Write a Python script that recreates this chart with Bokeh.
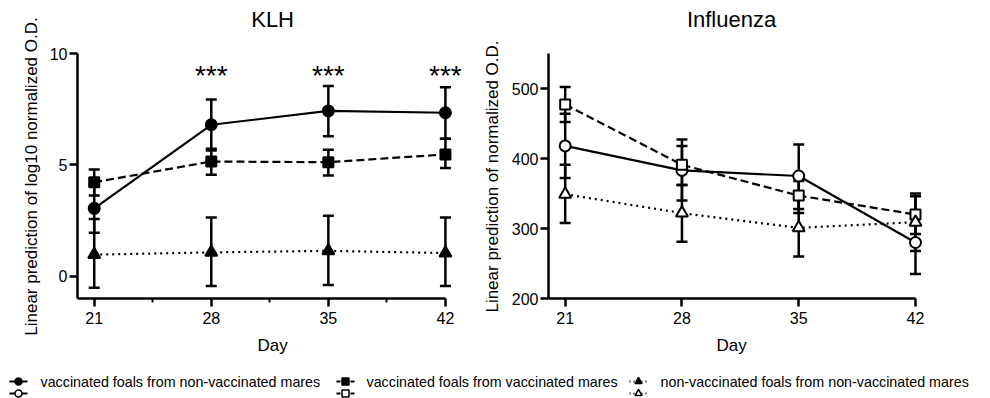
import math
from bokeh.plotting import figure
from bokeh.layouts import column, row
from bokeh.models import Whisker, TeeHead, ColumnDataSource, FixedTicker, Range1d
from bokeh.core.properties import value
from bokeh.embed import file_html
from bokeh.resources import INLINE

# ---------------- data ----------------
days = [21, 28, 35, 42]
x_ticks = [21, 28, 35, 42]
x_minor_ticks = [24.5, 31.5, 38.5]

titles = ["KLH", "Influenza"]
x_label = "Day"
y_labels = ["Linear prediction of log10 normalized O.D.", "Linear prediction of normalized O.D."]

series_names = [
    "vaccinated foals from non-vaccinated mares",
    "vaccinated foals from vaccinated mares",
    "non-vaccinated foals from non-vaccinated mares",
]

# KLH (linear prediction of log10 normalized O.D.)
klh_vfnm = [3.05, 6.80, 7.42, 7.34]
klh_vfnm_lo = [1.95, 5.65, 6.28, 6.17]
klh_vfnm_hi = [4.10, 7.94, 8.54, 8.48]

klh_vfvm = [4.22, 5.15, 5.12, 5.47]
klh_vfvm_lo = [3.62, 4.56, 4.52, 4.86]
klh_vfvm_hi = [4.79, 5.72, 5.68, 6.17]

klh_nvfnm = [0.97, 1.07, 1.14, 1.04]
klh_nvfnm_lo = [-0.52, -0.44, -0.39, -0.44]
klh_nvfnm_hi = [2.57, 2.64, 2.72, 2.64]

klh_y_ticks = [0, 5, 10]
star_days = [28, 35, 42]
star_labels = ["***", "***", "***"]

# Influenza (linear prediction of normalized O.D.)
flu_vfnm = [418, 383, 375, 280]
flu_vfnm_lo = [372, 340, 328, 235]
flu_vfnm_hi = [464, 418, 420, 325]

flu_vfvm = [477, 391, 347, 320]
flu_vfvm_lo = [452, 362, 322, 292]
flu_vfvm_hi = [502, 427, 368, 350]

flu_nvfnm = [349, 322, 301, 309]
flu_nvfnm_lo = [308, 281, 260, 268]
flu_nvfnm_hi = [391, 362, 342, 346]

flu_y_ticks = [200, 300, 400, 500]

# ---------------- styling / layout constants ----------------
FONT = "Liberation Sans"
STAR_Y = 9.0
dash_styles = ["solid", "8 4", "2 4"]
markers = ["circle", "square", "triangle"]
marker_sizes = [11, 10, 12]
W = 990
TOP_H, MAIN_H, DAY_H, LEG_H = 40, 295, 25, 38
UPPER_H = TOP_H + MAIN_H + DAY_H
BORDER_TOP, BORDER_BOTTOM = 13, 37
X_LO, X_HI, X_MAX = 20, 42, 43.5
label_strip_w = [45, 25]
panel_widths = [435, 485]
panel_left = [32, 43]
panel_right = [10, 50]
label_strip_x = [31, 12]
YLABEL_CY = 176


def strip(width, height):
    s = figure(width=width, height=height, x_range=Range1d(0, width), y_range=Range1d(height, 0),
               output_backend="svg", toolbar_location=None, min_border=0)
    s.axis.visible = False
    s.grid.visible = False
    s.outline_line_color = None
    return s


def base_fig(width, yr, lb, rb, yticks, minor):
    p = figure(width=width, height=MAIN_H, x_range=Range1d(X_LO, X_MAX), y_range=Range1d(*yr),
               output_backend="svg", toolbar_location=None,
               min_border_left=lb, min_border_right=rb, min_border_top=BORDER_TOP,
               min_border_bottom=BORDER_BOTTOM)
    p.outline_line_color = None
    p.grid.visible = False
    p.background_fill_color = "white"
    p.border_fill_color = "white"
    for ax in (p.xaxis[0], p.yaxis[0]):
        ax.axis_line_width = 2.5
        ax.axis_line_color = "black"
        ax.major_tick_line_width = 2.5
        ax.major_tick_line_color = "black"
        ax.major_tick_in = 0
        ax.major_tick_out = 8
        ax.major_label_text_font = FONT
        ax.major_label_text_font_size = "16px"
        ax.major_label_text_color = "black"
    xa = p.xaxis[0]
    xa.ticker = FixedTicker(ticks=x_ticks, minor_ticks=x_minor_ticks if minor else [])
    xa.bounds = (X_LO, X_HI)
    xa.major_label_standoff = 5
    if minor:
        xa.minor_tick_line_width = 2
        xa.minor_tick_line_color = "black"
        xa.minor_tick_in = 0
        xa.minor_tick_out = 4
    else:
        xa.minor_tick_line_color = None
    ya = p.yaxis[0]
    ya.ticker = FixedTicker(ticks=yticks, minor_ticks=[])
    ya.minor_tick_line_color = None
    ya.major_label_standoff = 2
    return p


def add_series(p, y, lo, hi, dash, marker, size, filled):
    src = ColumnDataSource(dict(x=days, y=y, lo=lo, hi=hi))
    w = Whisker(source=src, base="x", lower="lo", upper="hi", dimension="height",
                line_width=2.5, line_color="black",
                lower_head=TeeHead(size=11, line_width=2.5, line_color="black"),
                upper_head=TeeHead(size=11, line_width=2.5, line_color="black"))
    p.add_layout(w)
    p.line("x", "y", source=src, line_color="black", line_width=2.2, line_dash=dash)
    p.scatter("x", "y", source=src, marker=marker, size=size, line_color="black",
              line_width=2, fill_color="black" if filled else "white")


p1 = base_fig(panel_widths[0], (-1, 10), panel_left[0], panel_right[0], klh_y_ticks, True)
for (y, lo, hi), d, m, s in zip(
        [(klh_vfnm, klh_vfnm_lo, klh_vfnm_hi), (klh_vfvm, klh_vfvm_lo, klh_vfvm_hi),
         (klh_nvfnm, klh_nvfnm_lo, klh_nvfnm_hi)], dash_styles, markers, marker_sizes):
    add_series(p1, y, lo, hi, d, m, s, True)
p1.text(x=star_days, y=[STAR_Y] * len(star_days), text=star_labels,
        text_font=value(FONT), text_font_size="28px", text_align="center",
        text_baseline="middle", text_color="black")

p2 = base_fig(panel_widths[1], (200, 550), panel_left[1], panel_right[1], flu_y_ticks, False)
for (y, lo, hi), d, m, s in zip(
        [(flu_vfnm, flu_vfnm_lo, flu_vfnm_hi), (flu_vfvm, flu_vfvm_lo, flu_vfvm_hi),
         (flu_nvfnm, flu_nvfnm_lo, flu_nvfnm_hi)], dash_styles, markers, marker_sizes):
    add_series(p2, y, lo, hi, d, m, s, False)

cols = []
ylabs = []
for i, p in enumerate([p1, p2]):
    ppu = (panel_widths[i] - panel_left[i] - panel_right[i]) / (X_MAX - X_LO)
    cx = panel_left[i] + ((X_LO + X_HI) / 2 - X_LO) * ppu
    t = strip(panel_widths[i], TOP_H)
    t.text(x=[cx], y=[19], text=[titles[i]], text_font=value(FONT), text_font_size="22px",
           text_align="center", text_baseline="middle", text_color="black")
    d = strip(panel_widths[i], DAY_H)
    d.text(x=[cx], y=[10], text=[x_label], text_font=value(FONT), text_font_size="17px",
           text_align="center", text_baseline="middle", text_color="black")
    cols.append(column(t, p, d))
    lab = strip(label_strip_w[i], UPPER_H)
    lab.text(x=[label_strip_x[i]], y=[YLABEL_CY], text=[y_labels[i]], angle=math.pi / 2,
             text_font=value(FONT), text_font_size="17px", text_align="center",
             text_baseline="middle", text_color="black")
    ylabs.append(lab)

upper = row(ylabs[0], cols[0], ylabs[1], cols[1])

# ---------------- legend strip ----------------
leg = strip(W, LEG_H)
leg_sym_x = [18, 345, 638]
leg_text_x = [40, 366, 660]
leg_dash = ["solid", "4 3", "1 3"]
ROW1, ROW2 = 21, 33
for i in range(3):
    cx = leg_sym_x[i]
    for ry, filled in ((ROW1, True), (ROW2, False)):
        leg.line([cx - 9, cx + 9], [ry, ry], line_color="black", line_width=2, line_dash=leg_dash[i])
        leg.scatter([cx], [ry], marker=markers[i], size=7, line_color="black", line_width=1.5,
                    fill_color="black" if filled else "white")
leg.text(x=leg_text_x, y=[ROW1] * 3, text=series_names, text_font=value(FONT),
         text_font_size="14.3px", text_baseline="middle", text_align="left", text_color="black")

layout = column(upper, leg)
open("out.html", "w").write(file_html(layout, INLINE))
